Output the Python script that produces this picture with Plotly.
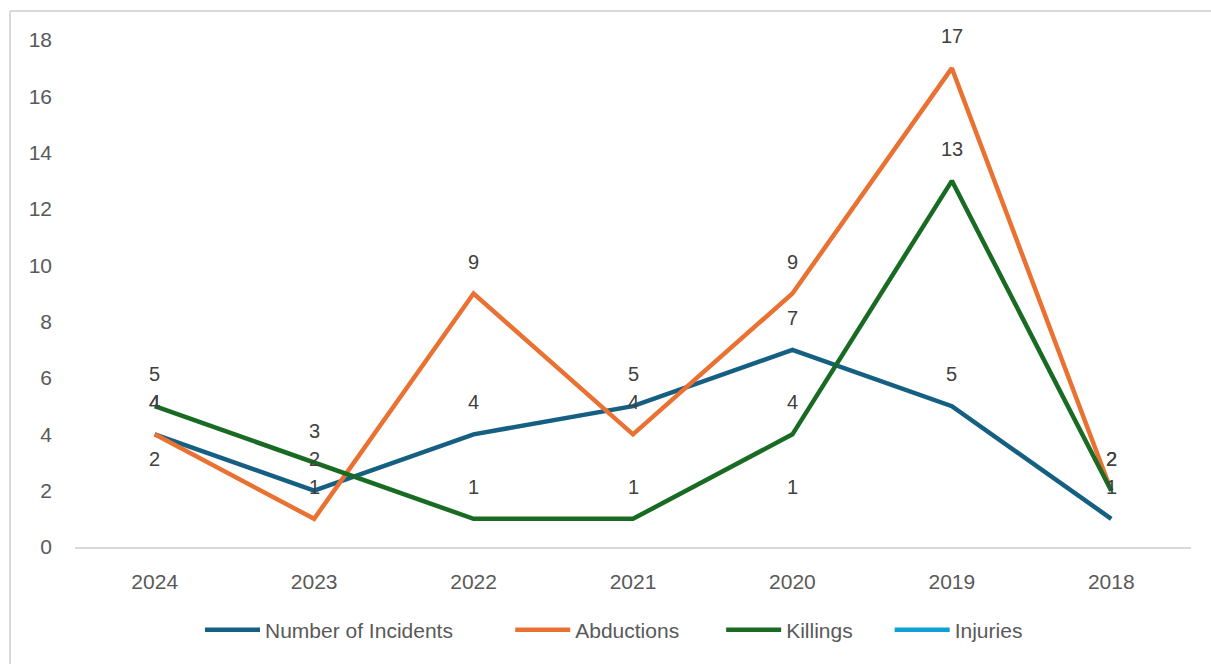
import plotly.graph_objects as go

years = ["2024", "2023", "2022", "2021", "2020", "2019", "2018"]
incidents = [4, 2, 4, 5, 7, 5, 1]
abductions = [4, 1, 9, 4, 9, 17, 2]
killings = [5, 3, 1, 1, 4, 13, 2]
injuries = [2, None, None, None, 1, None, None]

series = [
    ("Number of Incidents", incidents, "#156082"),
    ("Abductions", abductions, "#E97132"),
    ("Killings", killings, "#196B24"),
    ("Injuries", injuries, "#0F9ED5"),
]

# legend positions (paper x) for each series, one legend per series
legend_x = [0.112, 0.390, 0.579, 0.730]

fig = go.Figure()
annotations = []
layout_legends = {}
lfont = dict(family="Liberation Sans Narrow, Liberation Sans, sans-serif", size=21, color="#595959")
for k, (name, vals, color) in enumerate(series):
    lg = "legend" if k == 0 else f"legend{k+1}"
    fig.add_trace(go.Scatter(
        x=years, y=vals, name=name, mode="lines",
        line=dict(color=color, width=4.5),
        connectgaps=False, hoverinfo="skip", legend=lg,
    ))
    layout_legends[lg] = dict(
        orientation="h", x=legend_x[k], xanchor="left", y=-0.164, yanchor="middle",
        font=lfont, itemwidth=55, bgcolor="rgba(0,0,0,0)",
    )
    for i, v in enumerate(vals):
        if v is None:
            continue
        annotations.append(dict(
            x=i, y=v, xref="x", yref="y", text=str(v), showarrow=False, yshift=32,
            font=dict(family="Liberation Sans, Arial, sans-serif", size=20, color="#404040"),
        ))

border = dict(color="#d9d9d9", width=2)
shapes = [
    dict(type="line", xref="paper", yref="paper", x0=-0.0582, x1=1.2, y0=1.0572, y1=1.0572, line=border),
    dict(type="line", xref="paper", yref="paper", x0=-0.0582, x1=-0.0582, y0=1.0572, y1=-0.3, line=border),
]

fig.update_layout(
    width=1211, height=664,
    margin=dict(l=75, r=20, t=40, b=117),
    paper_bgcolor="white", plot_bgcolor="white",
    annotations=annotations,
    shapes=shapes,
    showlegend=True,
    xaxis=dict(
        type="category", range=[-0.5, 6.5], showgrid=False, zeroline=False,
        showline=True, linecolor="#d9d9d9", linewidth=1.5,
        ticks="", ticklabelstandoff=15,
        tickfont=dict(family="Liberation Sans, Arial, sans-serif", size=21, color="#595959"),
    ),
    yaxis=dict(
        range=[0, 18], dtick=2, showgrid=False, zeroline=False, showline=False,
        ticks="", ticklabelstandoff=22,
        tickfont=dict(family="Liberation Sans, Arial, sans-serif", size=21, color="#595959"),
    ),
    **layout_legends,
)

fig.write_html("out.html")
